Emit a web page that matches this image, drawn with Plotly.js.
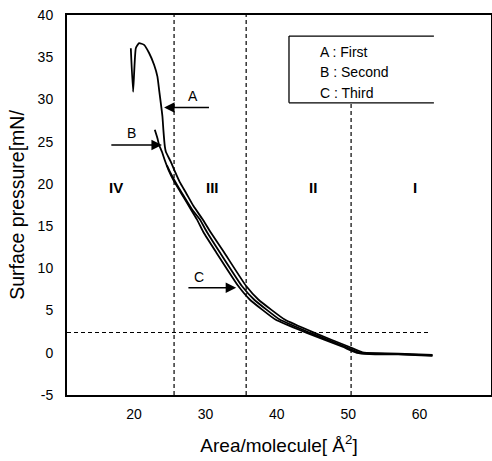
<!DOCTYPE html>
<html>
<head>
<meta charset="utf-8">
<script src="https://cdn.plot.ly/plotly-3.0.1.min.js"></script>
<style>html,body{margin:0;padding:0;background:#fff}#chart{width:492px;height:461px}</style>
</head>
<body>
<div id="chart"></div>
<script>
// Curve A : First
const firstArea = [19.54, 19.86, 20.24, 20.70, 21.40, 22.10, 22.81, 23.27, 23.51, 23.75, 23.97, 24.11, 24.31, 24.45, 25.15, 25.7, 26.4, 27.3, 28.3, 29.6, 30.7, 32.6, 35.7, 37.4, 41.1, 45.2, 50.1, 52.0, 54.0, 57.0, 61.8];
const firstPressure = [36.07, 30.9, 36.07, 36.67, 36.46, 35.5, 34.08, 32.7, 31.1, 29.5, 27.98, 26.3, 24.4, 23.8, 22.6, 21.5, 20.2, 18.9, 17.4, 15.8, 14.3, 11.9, 7.9, 6.31, 3.93, 2.38, 0.71, 0.05, -0.05, -0.1, -0.25];
// Curve B : Second
const secondArea = [22.9, 23.27, 23.5, 23.9, 24.3, 24.8, 25.6, 26.6, 27.8, 28.8, 29.7, 31.5, 34.6, 36.2, 39.8, 44.1, 49.2, 51.2, 53.0, 57.0, 61.8];
const secondPressure = [26.4, 25.4, 24.6, 23.8, 22.8, 21.7, 20.3, 18.9, 17.2, 15.8, 14.3, 11.9, 7.9, 6.31, 3.93, 2.38, 0.71, 0.0, -0.15, -0.2, -0.35];
// Curve C : Third
const thirdArea = [24.6, 25.1, 26.0, 27.0, 28.1, 29.2, 30.2, 32.0, 35.1, 36.8, 40.4, 44.6, 49.6, 51.6, 53.5, 57.0, 61.8];
const thirdPressure = [22.2, 21.3, 19.9, 18.5, 17.0, 15.8, 14.3, 11.9, 7.9, 6.31, 3.93, 2.38, 0.71, 0.0, -0.1, -0.15, -0.3];

const xTicks = [20, 30, 40, 50, 60];
const yTicks = [-5, 0, 5, 10, 15, 20, 25, 30, 35, 40];
const yTickText = ['-5', '0', '5', '10', '15', '20', '25', '30', '35', '40'];
const phaseBoundaries = [25.6, 35.7, 50.4];
const collapseLevel = 2.4;
const phaseLabels = ['IV', 'III', 'II', 'I'];
const phaseLabelX = [17.5, 31.0, 45.0, 59.3];
const phaseLabelY = 19.6;
const legendLines = ['A : First', 'B : Second', 'C : Third'];
const legendY = [35.6, 33.2, 30.8];
const arrowLabels = ['A', 'B', 'C'];
const arrowHeadX = [24.2, 23.9, 34.3];
const arrowTailX = [30.7, 16.6, 27.4];
const arrowY = [29.05, 24.6, 7.7];
const arrowLabelX = [28.3, 19.7, 29.1];
const arrowLabelY = [30.4, 26.0, 9.0];

const FONT = 'Liberation Sans, Arial, Helvetica, sans-serif';
const lineStyle = {color: '#000', width: 1.8, shape: 'spline', smoothing: 0.4};

const traces = [
  {x: firstArea, y: firstPressure, mode: 'lines', line: lineStyle, name: 'A : First', showlegend: false},
  {x: secondArea, y: secondPressure, mode: 'lines', line: lineStyle, name: 'B : Second', showlegend: false},
  {x: thirdArea, y: thirdPressure, mode: 'lines', line: lineStyle, name: 'C : Third', showlegend: false}
];

const xMin = 10.6, xMax = 70, yMin = -5, yMax = 40;
const boxLeft = 41.7, boxRight = 62.0, boxTop = 37.5, boxBottom = 29.6;
const legendTextX = 45.8;

const dash = {color: '#000', width: 1.2, dash: '4px,3px'};
const shapes = [];
phaseBoundaries.forEach((b, i) => {
  shapes.push({type: 'line', xref: 'x', yref: 'y', x0: b, x1: b, y0: yMin, y1: i === 2 ? boxBottom : yMax, line: dash});
});
shapes.push({type: 'line', xref: 'x', yref: 'y', x0: xMin, x1: 61.4, y0: collapseLevel, y1: collapseLevel, line: dash});
const boxLine = {color: '#000', width: 1.3};
shapes.push({type: 'line', xref: 'x', yref: 'y', x0: boxLeft, x1: boxLeft, y0: boxBottom, y1: boxTop, line: boxLine});
shapes.push({type: 'line', xref: 'x', yref: 'y', x0: boxLeft, x1: boxRight, y0: boxTop, y1: boxTop, line: boxLine});
shapes.push({type: 'line', xref: 'x', yref: 'y', x0: boxLeft, x1: boxRight, y0: boxBottom, y1: boxBottom, line: boxLine});

const annotations = [];
phaseLabels.forEach((t, i) => annotations.push({x: phaseLabelX[i], y: phaseLabelY, text: '<b>' + t + '</b>', showarrow: false, font: {family: FONT, size: 15, color: '#000000'}}));
legendLines.forEach((t, i) => annotations.push({x: legendTextX, y: legendY[i], text: t, xanchor: 'left', showarrow: false, font: {family: FONT, size: 14, color: '#000'}}));
arrowLabels.forEach((t, i) => {
  annotations.push({x: arrowHeadX[i], y: arrowY[i], ax: arrowTailX[i], ay: arrowY[i], axref: 'x', ayref: 'y', text: '', showarrow: true, arrowhead: 2, arrowsize: 1.4, arrowwidth: 1.5, arrowcolor: '#000'});
  annotations.push({x: arrowLabelX[i], y: arrowLabelY[i], text: t, showarrow: false, font: {family: FONT, size: 14, color: '#000'}});
});

const layout = {
  width: 492, height: 461,
  margin: {l: 67, r: 1, t: 15, b: 66},
  paper_bgcolor: '#fff', plot_bgcolor: '#fff',
  font: {family: FONT, size: 14, color: '#000'},
  showlegend: false,
  xaxis: {
    range: [xMin, xMax], tickvals: xTicks, showgrid: false, zeroline: false,
    showline: true, mirror: true, linecolor: '#000', linewidth: 2, ticks: '',
    ticklabelstandoff: 5,
    tickfont: {family: FONT, size: 14, color: '#000'},
    title: {text: 'Area/molecule[ Å<sup>2</sup>]', font: {family: FONT, size: 19, color: '#000'}, standoff: 18}
  },
  yaxis: {
    range: [yMin, yMax], tickvals: yTicks, ticktext: yTickText, showgrid: false, zeroline: false,
    showline: true, mirror: true, linecolor: '#000', linewidth: 2, ticks: '',
    ticklabelstandoff: 9,
    tickfont: {family: FONT, size: 14, color: '#000'},
    title: {text: 'Surface pressure[mN/', font: {family: FONT, size: 19.5, color: '#000'}, standoff: 8}
  },
  shapes: shapes,
  annotations: annotations
};

Plotly.newPlot('chart', traces, layout, {displayModeBar: false, staticPlot: true});
</script>
</body>
</html>
